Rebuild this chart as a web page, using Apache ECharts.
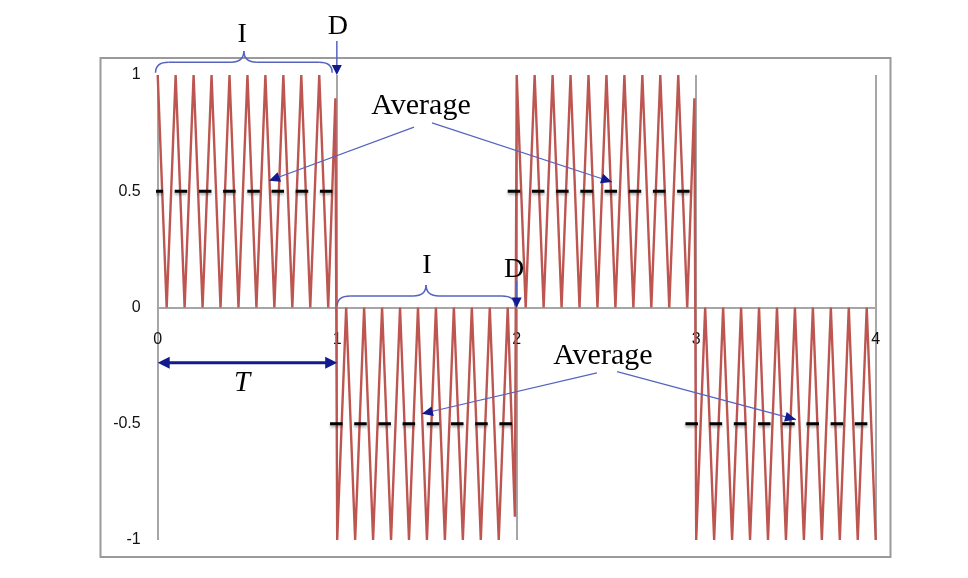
<!DOCTYPE html>
<html><head><meta charset="utf-8">
<script src="https://cdn.jsdelivr.net/npm/echarts@6/dist/echarts.min.js"></script>
<style>html,body{margin:0;padding:0;background:#fff}#c{width:968px;height:578px}</style>
</head><body><div id="c"></div>
<script>
// ---- data ----
const xTicks = [0, 1, 2, 3, 4];
const yTicks = [-1, -0.5, 0, 0.5, 1];
// peaks / troughs of the oscillating signal, per period
const segA = [[0,1],[0.05,0],[0.1,1],[0.15,0],[0.2,1],[0.25,0],[0.3,1],[0.35,0],[0.4,1],[0.45,0],[0.5,1],[0.55,0],[0.6,1],[0.65,0],[0.7,1],[0.75,0],[0.8,1],[0.85,0],[0.9,1],[0.95,0],[0.99,0.9]];
const segB = [[1,-1],[1.05,0],[1.1,-1],[1.15,0],[1.2,-1],[1.25,0],[1.3,-1],[1.35,0],[1.4,-1],[1.45,0],[1.5,-1],[1.55,0],[1.6,-1],[1.65,0],[1.7,-1],[1.75,0],[1.8,-1],[1.85,0],[1.9,-1],[1.95,0],[1.99,-0.9]];
const segC = [[2,1],[2.05,0],[2.1,1],[2.15,0],[2.2,1],[2.25,0],[2.3,1],[2.35,0],[2.4,1],[2.45,0],[2.5,1],[2.55,0],[2.6,1],[2.65,0],[2.7,1],[2.75,0],[2.8,1],[2.85,0],[2.9,1],[2.95,0],[2.99,0.9]];
const segD = [[3,-1],[3.05,0],[3.1,-1],[3.15,0],[3.2,-1],[3.25,0],[3.3,-1],[3.35,0],[3.4,-1],[3.45,0],[3.5,-1],[3.55,0],[3.6,-1],[3.65,0],[3.7,-1],[3.75,0],[3.8,-1],[3.85,0],[3.9,-1],[3.95,0],[4,-1]];
// average (dashed) lines
const avgStart = [-0.04, 0.96, 1.95, 2.94];
const avgEnd   = [0.99, 1.98, 2.98, 3.96];
const avgValue = [0.5, -0.5, 0.5, -0.5];

// ---- annotations (data coordinates) ----
const labels = [
  {text:'I', at:[0.47, 1.172], size:28, italic:false},
  {text:'D', at:[1.004, 1.208], size:28, italic:false},
  {text:'Average', at:[1.467, 0.867], size:30, italic:false},
  {text:'I', at:[1.5, 0.179], size:28, italic:false},
  {text:'D', at:[1.985, 0.164], size:28, italic:false},
  {text:'Average', at:[2.48, -0.207], size:30, italic:false},
  {text:'T', at:[0.47, -0.328], size:29, italic:true}
];
const braces = [
  {x0:-0.012, x1:0.972, yEnd:1.01, yFlat:1.055, yTip:1.103},
  {x0:1.0, x1:1.99, yEnd:0.007, yFlat:0.05, yTip:0.097}
];
const thinArrows = [
  {from:[1.428, 0.776], to:[0.62, 0.545]},
  {from:[1.528, 0.794], to:[2.531, 0.54]},
  {from:[2.447, -0.281], to:[1.472, -0.457]},
  {from:[2.559, -0.276], to:[3.556, -0.482]}
];
const dArrows = [
  {from:[0.998, 1.146], to:[0.998, 1.0]},
  {from:[2.0, 0.115], to:[2.0, 0.0]}
];
const tArrow = {from:[0, -0.238], to:[1, -0.238]};

const WAVE = '#bd5550', GRID = '#a6a6a6', LIGHTBLUE = '#5563c1', NAVY = '#111a8f';
const GRID_TOP = 75, GRID_BOTTOM = 38, H = 578;

const chart = echarts.init(document.getElementById('c'), null, {renderer:'canvas'});

const avgSeries = avgValue.map((v, i) => ({
  type:'line', data:[[avgStart[i], v],[avgEnd[i], v]], clip:false, symbol:'none', z:4,
  lineStyle:{color:'#000', width:3, type:[12.5, 11.7], shadowBlur:3, shadowColor:'rgba(0,0,0,0.35)', shadowOffsetY:2}
}));

const gridH = H - GRID_TOP - GRID_BOTTOM;
chart.setOption({
  animation:false,
  backgroundColor:'#fff',
  grid:{left:157.7, right:92.3, top:GRID_TOP, bottom:GRID_BOTTOM},
  xAxis:[{type:'value', min:xTicks[0], max:xTicks[xTicks.length-1], interval:1,
    axisLine:{onZero:true, lineStyle:{color:GRID, width:2}},
    axisTick:{show:false},
    axisLabel:{show:false},
    splitLine:{show:true, showMinLine:true, showMaxLine:true, lineStyle:{color:GRID, width:2}}},
   {type:'value', position:'bottom', offset:-gridH/2, min:xTicks[0], max:xTicks[xTicks.length-1], interval:1,
    axisLine:{show:false, onZero:false}, axisTick:{show:false}, splitLine:{show:false},
    axisLabel:{margin:24, fontSize:16, color:'#111', fontFamily:'Liberation Sans'}}],
  yAxis:{type:'value', min:yTicks[0], max:yTicks[yTicks.length-1], interval:0.5,
    axisLine:{show:false}, axisTick:{show:false}, splitLine:{show:false},
    axisLabel:{margin:17, fontSize:16, color:'#111', fontFamily:'Liberation Sans'}},
  series:[{type:'line', data:segA.concat(segB, segC, segD), symbol:'none', z:3,
    lineStyle:{color:WAVE, width:2.4}}].concat(avgSeries)
});

function P(pt){ return chart.convertToPixel({xAxisIndex:0, yAxisIndex:0}, pt); }

function head(tip, fromPt, color, len, half){
  const dx = tip[0]-fromPt[0], dy = tip[1]-fromPt[1];
  const d = Math.hypot(dx, dy), ux = dx/d, uy = dy/d;
  const bx = tip[0]-ux*len, by = tip[1]-uy*len;
  return {type:'polygon', z:20, shape:{points:[[tip[0],tip[1]],[bx-uy*half, by+ux*half],[bx+uy*half, by-ux*half]]}, style:{fill:color}};
}

const g = [];
g.push({type:'rect', z:1, shape:{x:100.5, y:58, width:790, height:499}, style:{fill:'none', stroke:'#9a9a9a', lineWidth:2}});

const braceStyle = {fill:'none', stroke:LIGHTBLUE, lineWidth:1.5};
braces.forEach(b => {
  const a = P([b.x0, b.yEnd]), c = P([b.x1, b.yEnd]);
  const yf = P([0, b.yFlat])[1], yt = P([0, b.yTip])[1];
  const xm = (a[0]+c[0])/2, r = 13;
  g.push({type:'bezierCurve', z:20, shape:{x1:a[0], y1:a[1], cpx1:a[0], cpy1:yf, x2:a[0]+r, y2:yf}, style:braceStyle});
  g.push({type:'line', z:20, shape:{x1:a[0]+r, y1:yf, x2:xm-r, y2:yf}, style:braceStyle});
  g.push({type:'bezierCurve', z:20, shape:{x1:xm-r, y1:yf, cpx1:xm, cpy1:yf, x2:xm, y2:yt}, style:braceStyle});
  g.push({type:'bezierCurve', z:20, shape:{x1:xm, y1:yt, cpx1:xm, cpy1:yf, x2:xm+r, y2:yf}, style:braceStyle});
  g.push({type:'line', z:20, shape:{x1:xm+r, y1:yf, x2:c[0]-r, y2:yf}, style:braceStyle});
  g.push({type:'bezierCurve', z:20, shape:{x1:c[0]-r, y1:yf, cpx1:c[0], cpy1:yf, x2:c[0], y2:c[1]}, style:braceStyle});
});

thinArrows.forEach(ar => {
  const f = P(ar.from), t = P(ar.to);
  g.push({type:'line', z:20, shape:{x1:f[0], y1:f[1], x2:t[0], y2:t[1]}, style:{stroke:LIGHTBLUE, lineWidth:1.2}});
  g.push(head(t, f, NAVY, 11, 5));
});

dArrows.forEach(ar => {
  const f = P(ar.from), t = P(ar.to);
  g.push({type:'line', z:20, shape:{x1:f[0], y1:f[1], x2:t[0], y2:t[1]-6}, style:{stroke:LIGHTBLUE, lineWidth:1.5}});
  g.push(head(t, f, NAVY, 10, 5));
});

{
  const f = P(tArrow.from), t = P(tArrow.to);
  g.push({type:'line', z:20, shape:{x1:f[0]+6, y1:f[1], x2:t[0]-6, y2:t[1]}, style:{stroke:NAVY, lineWidth:3}});
  g.push(head(t, f, NAVY, 12, 6));
  g.push(head(f, t, NAVY, 12, 6));
}

labels.forEach(l => {
  const p = P(l.at);
  g.push({type:'text', z:25, style:{text:l.text, x:p[0], y:p[1], textAlign:'center', textVerticalAlign:'middle',
    font:(l.italic ? 'italic ' : '') + l.size + 'px "Liberation Serif", "DejaVu Serif", serif', fill:'#000'}});
});

chart.setOption({graphic:g});
</script>
</body></html>
